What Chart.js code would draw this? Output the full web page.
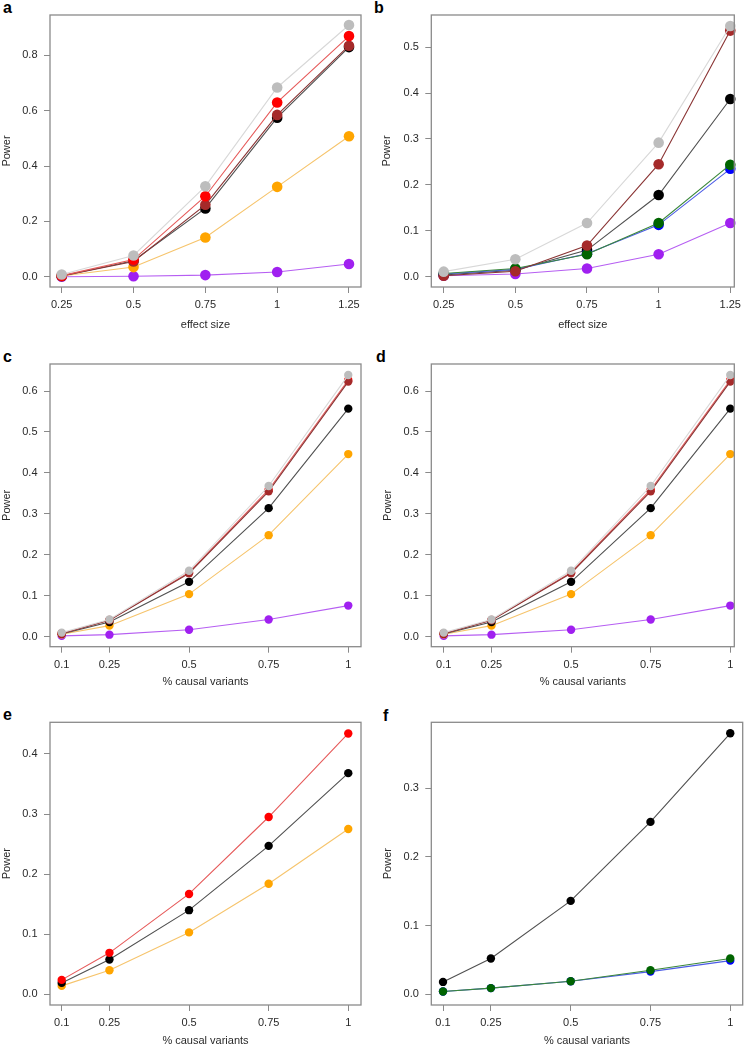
<!DOCTYPE html>
<html><head><meta charset="utf-8">
<script src="https://cdn.jsdelivr.net/npm/chart.js@4.4.1/dist/chart.umd.min.js"></script>
<style>
html,body{margin:0;padding:0;background:#fff;width:745px;height:1047px;overflow:hidden;position:relative;}
canvas{position:absolute;}
.lbl{position:absolute;font:bold 16px "Liberation Sans",Arial,sans-serif;line-height:16px;color:#000;}
</style></head><body>
<div class="lbl" style="left:3px;top:0px">a</div>
<div class="lbl" style="left:374px;top:0px">b</div>
<div class="lbl" style="left:3px;top:349px">c</div>
<div class="lbl" style="left:376px;top:349px">d</div>
<div class="lbl" style="left:3px;top:707px">e</div>
<div class="lbl" style="left:383px;top:708px">f</div>
<script>
// ---- data ----
const effectSize = [0.25, 0.5, 0.75, 1, 1.25];
const effectLabels = ['0.25', '0.5', '0.75', '1', '1.25'];
const pctCausal = [0.1, 0.25, 0.5, 0.75, 1];
const pctLabels = ['0.1', '0.25', '0.5', '0.75', '1'];

const aGray   = [0.008, 0.077, 0.327, 0.684, 0.910];
const aRed    = [0.004, 0.062, 0.291, 0.630, 0.870];
const aBrown  = [0.003, 0.055, 0.260, 0.585, 0.835];
const aBlack  = [0.003, 0.058, 0.247, 0.575, 0.830];
const aOrange = [0.003, 0.035, 0.142, 0.325, 0.508];
const aPurple = [0.000, 0.002, 0.006, 0.017, 0.046];

const bGray   = [0.011, 0.038, 0.117, 0.292, 0.546];
const bBrown  = [0.002, 0.012, 0.068, 0.245, 0.536];
const bBlack  = [0.004, 0.014, 0.058, 0.178, 0.387];
const bGreen  = [0.007, 0.018, 0.049, 0.117, 0.244];
const bBlue   = [0.006, 0.016, 0.050, 0.113, 0.235];
const bPurple = [0.002, 0.006, 0.018, 0.049, 0.117];

const cGray   = [0.010, 0.042, 0.161, 0.368, 0.639];
const cRed    = [0.008, 0.041, 0.157, 0.359, 0.627];
const cBrown  = [0.008, 0.040, 0.155, 0.355, 0.623];
const cBlack  = [0.007, 0.036, 0.134, 0.314, 0.557];
const cOrange = [0.006, 0.027, 0.104, 0.248, 0.446];
const cPurple = [0.002, 0.005, 0.017, 0.042, 0.076];

const dGray   = [0.010, 0.042, 0.161, 0.368, 0.639];
const dRed    = [0.008, 0.041, 0.157, 0.359, 0.627];
const dBrown  = [0.008, 0.040, 0.155, 0.355, 0.623];
const dBlack  = [0.007, 0.036, 0.134, 0.314, 0.557];
const dOrange = [0.006, 0.027, 0.104, 0.248, 0.446];
const dPurple = [0.002, 0.005, 0.017, 0.042, 0.076];

const eRed    = [0.024, 0.069, 0.167, 0.295, 0.434];
const eBlack  = [0.019, 0.058, 0.140, 0.247, 0.368];
const eOrange = [0.014, 0.040, 0.103, 0.184, 0.275];

const fBlack  = [0.018, 0.052, 0.136, 0.251, 0.380];
const fGreen  = [0.004, 0.009, 0.019, 0.035, 0.052];
const fBlue   = [0.004, 0.009, 0.019, 0.033, 0.049];

const yTicksA = [0, 0.2, 0.4, 0.6, 0.8];
const yLabelsA = ['0.0', '0.2', '0.4', '0.6', '0.8'];
const yTicksB = [0, 0.1, 0.2, 0.3, 0.4, 0.5];
const yLabelsB = ['0.0', '0.1', '0.2', '0.3', '0.4', '0.5'];
const yTicksCD = [0, 0.1, 0.2, 0.3, 0.4, 0.5, 0.6];
const yLabelsCD = ['0.0', '0.1', '0.2', '0.3', '0.4', '0.5', '0.6'];
const yTicksE = [0, 0.1, 0.2, 0.3, 0.4];
const yLabelsE = ['0.0', '0.1', '0.2', '0.3', '0.4'];
const yTicksF = [0, 0.1, 0.2, 0.3];
const yLabelsF = ['0.0', '0.1', '0.2', '0.3'];

// ---- styles ----
const COLORS = {
  gray:   {pt: '#bdbdbd', ln: '#d8d8d8'},
  red:    {pt: '#ff0000', ln: '#e65a5a'},
  brown:  {pt: '#a52a2a', ln: '#8a3434'},
  black:  {pt: '#000000', ln: '#505050'},
  orange: {pt: '#ffa500', ln: '#f6c46c'},
  purple: {pt: '#a020f0', ln: '#b65ef2'},
  green:  {pt: '#006400', ln: '#3a873a'},
  blue:   {pt: '#0000ff', ln: '#4b5be6'}
};
const FONT = {family: '"Liberation Sans", Arial, Helvetica, sans-serif', size: 11};
const TXT = '#2a2a2a';
const AXC = '#8a8a8a';

const boxPlugin = {
  id: 'box',
  afterDatasetsDraw(chart) {
    const a = chart.chartArea, ctx = chart.ctx;
    ctx.save();
    ctx.strokeStyle = AXC;
    ctx.lineWidth = 1.3;
    ctx.strokeRect(a.left, a.top, a.right - a.left, a.bottom - a.top);
    ctx.restore();
  }
};

function panel(p) {
  const cv = document.createElement('canvas');
  const padLeft = Math.max(p.titleX - 6.6 - p.x0, 0);
  const Wy = p.L - p.x0 - padLeft;
  const Hx = p.xTitleY - p.B + 6.6;
  const padRight = 30;
  const w = Math.ceil(p.R - p.x0 + padRight);
  const h = Math.ceil(Hx + p.B - p.y0 + 2);
  cv.width = w; cv.height = h;
  cv.style.left = p.x0 + 'px'; cv.style.top = p.y0 + 'px';
  cv.style.width = w + 'px'; cv.style.height = h + 'px';
  document.body.appendChild(cv);
  const datasets = p.series.map(s => ({
    data: p.xs.map((x, i) => ({x: x, y: s.values[i]})),
    borderColor: COLORS[s.color].ln,
    backgroundColor: COLORS[s.color].pt,
    pointBackgroundColor: COLORS[s.color].pt,
    pointBorderColor: COLORS[s.color].pt,
    pointBorderWidth: 0,
    pointRadius: p.r,
    borderWidth: 1.1,
    tension: 0,
    fill: false,
    clip: false
  }));
  new Chart(cv.getContext('2d'), {
    type: 'line',
    data: {datasets},
    options: {
      responsive: false,
      animation: false,
      events: [],
      devicePixelRatio: 1,
      layout: {padding: {left: padLeft, top: p.T - p.y0, right: w - (p.R - p.x0), bottom: h - Hx - (p.B - p.y0)}},
      plugins: {legend: {display: false}, tooltip: {enabled: false}},
      scales: {
        x: {
          type: 'linear', position: 'bottom', min: p.xmin, max: p.xmax,
          afterBuildTicks: s => { s.ticks = p.xs.map(v => ({value: v})); },
          afterFit: s => { s.height = Hx; },
          ticks: {callback: (v, i) => p.xLabels[i], autoSkip: false, maxRotation: 0, minRotation: 0, padding: 5.5, font: FONT, color: TXT},
          grid: {drawOnChartArea: false, drawTicks: true, tickLength: 6, color: AXC, lineWidth: 1},
          border: {display: false},
          title: {display: true, text: p.xTitle, font: FONT, color: TXT, padding: 0}
        },
        y: {
          type: 'linear', position: 'left', min: p.ymin, max: p.ymax,
          afterBuildTicks: s => { s.ticks = p.yTicks.map(v => ({value: v})); },
          afterFit: s => { s.width = Wy; },
          ticks: {callback: (v, i) => p.yLabels[i], autoSkip: false, padding: 6.5, font: FONT, color: TXT},
          grid: {drawOnChartArea: false, drawTicks: true, tickLength: 6, color: AXC, lineWidth: 1},
          border: {display: false},
          title: {display: true, text: 'Power', font: FONT, color: TXT, padding: 0}
        }
      }
    },
    plugins: [boxPlugin]
  });
}

panel({x0: 0, y0: 0, L: 50, R: 361, T: 15, B: 287, titleX: 7, xTitleY: 325,
  xmin: 0.2093, xmax: 1.2918, ymin: -0.037, ymax: 0.946, r: 5.3,
  xs: effectSize, xLabels: effectLabels, xTitle: 'effect size', yTicks: yTicksA, yLabels: yLabelsA,
  series: [{values: aGray, color: 'gray'}, {values: aRed, color: 'red'}, {values: aBrown, color: 'brown'},
           {values: aBlack, color: 'black'}, {values: aOrange, color: 'orange'}, {values: aPurple, color: 'purple'}]});

panel({x0: 372, y0: 0, L: 431.3, R: 734.3, T: 15, B: 287, titleX: 387, xTitleY: 325,
  xmin: 0.2067, xmax: 1.264, ymin: -0.0224, ymax: 0.570, r: 5.3,
  xs: effectSize, xLabels: effectLabels, xTitle: 'effect size', yTicks: yTicksB, yLabels: yLabelsB,
  series: [{values: bGray, color: 'gray'}, {values: bBrown, color: 'brown'}, {values: bGreen, color: 'green'},
           {values: bBlue, color: 'blue'}, {values: bBlack, color: 'black'}, {values: bPurple, color: 'purple'}]});

panel({x0: 0, y0: 340, L: 50, R: 361, T: 364, B: 646.7, titleX: 7, xTitleY: 682,
  xmin: 0.0633, xmax: 1.04, ymin: -0.0244, ymax: 0.666, r: 4.2,
  xs: pctCausal, xLabels: pctLabels, xTitle: '% causal variants', yTicks: yTicksCD, yLabels: yLabelsCD,
  series: [{values: cGray, color: 'gray'}, {values: cBrown, color: 'brown'}, {values: cRed, color: 'red'},
           {values: cBlack, color: 'black'}, {values: cOrange, color: 'orange'}, {values: cPurple, color: 'purple'}]});

panel({x0: 372, y0: 340, L: 431.3, R: 734.3, T: 364, B: 646.7, titleX: 387.5, xTitleY: 682,
  xmin: 0.061, xmax: 1.0126, ymin: -0.0244, ymax: 0.666, r: 4.2,
  xs: pctCausal, xLabels: pctLabels, xTitle: '% causal variants', yTicks: yTicksCD, yLabels: yLabelsCD,
  series: [{values: dGray, color: 'gray'}, {values: dBrown, color: 'brown'}, {values: dRed, color: 'red'},
           {values: dBlack, color: 'black'}, {values: dOrange, color: 'orange'}, {values: dPurple, color: 'purple'}]});

panel({x0: 0, y0: 690, L: 50, R: 361, T: 722.3, B: 1005, titleX: 7, xTitleY: 1040.7,
  xmin: 0.0633, xmax: 1.04, ymin: -0.0178, ymax: 0.4526, r: 4.2,
  xs: pctCausal, xLabels: pctLabels, xTitle: '% causal variants', yTicks: yTicksE, yLabels: yLabelsE,
  series: [{values: eRed, color: 'red'}, {values: eBlack, color: 'black'}, {values: eOrange, color: 'orange'}]});

panel({x0: 372, y0: 690, L: 431.3, R: 742.7, T: 722.3, B: 1005, titleX: 387.5, xTitleY: 1040.7,
  xmin: 0.0633, xmax: 1.039, ymin: -0.0156, ymax: 0.396, r: 4.2,
  xs: pctCausal, xLabels: pctLabels, xTitle: '% causal variants', yTicks: yTicksF, yLabels: yLabelsF,
  series: [{values: fGreen, color: 'green'}, {values: fBlue, color: 'blue'}, {values: fBlack, color: 'black'}]});
</script>
</body></html>
